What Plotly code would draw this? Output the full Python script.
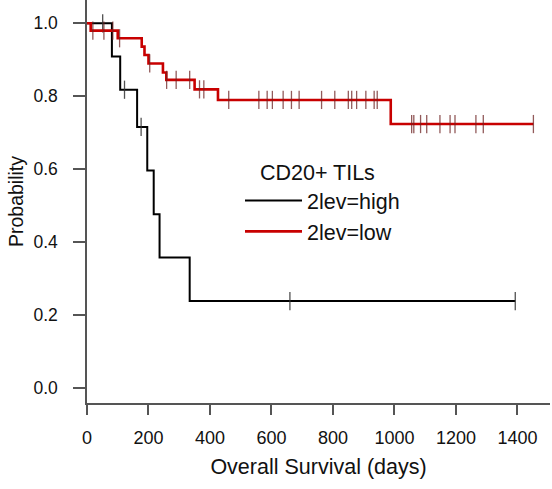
import plotly.graph_objects as go
import numpy as np

# Kaplan-Meier step data
high_times = [0, 81, 108, 163, 196, 217, 236, 334]
high_surv = [1.0, 0.909, 0.818, 0.716, 0.597, 0.477, 0.358, 0.239]
high_end = 1393
high_censor = [51, 122, 176, 660, 1393]

low_times = [0, 12, 100, 178, 187, 200, 247, 258, 350, 426, 988]
low_surv = [1.0, 0.980, 0.959, 0.936, 0.913, 0.890, 0.865, 0.845, 0.819, 0.790, 0.724]
low_end = 1452
low_censor = [19, 55, 84, 106, 204, 259, 290, 334, 366, 380, 461, 559, 586, 603,
              638, 665, 690, 763, 806, 850, 861, 877, 907, 934, 944, 1056, 1063,
              1085, 1105, 1148, 1181, 1197, 1265, 1289, 1452]

x_ticks = [0, 200, 400, 600, 800, 1000, 1200, 1400]
y_ticks = [0.0, 0.2, 0.4, 0.6, 0.8, 1.0]


def surv_at(times, surv, t):
    idx = np.searchsorted(times, t, side="right") - 1
    return surv[idx]


fig = go.Figure()

for name, times, surv, end, cens, col, lw, mcol in [
    ("2lev=high", high_times, high_surv, high_end, high_censor, "#000000", 2, "rgba(50,50,50,0.85)"),
    ("2lev=low", low_times, low_surv, low_end, low_censor, "#c80000", 2.6, "rgba(110,35,35,0.75)"),
]:
    fig.add_trace(go.Scatter(
        x=list(times) + [end], y=list(surv) + [surv[-1]],
        mode="lines", line=dict(color=col, width=lw, shape="hv"),
        name=name, showlegend=True,
    ))
    fig.add_trace(go.Scatter(
        x=cens, y=[surv_at(times, surv, t) for t in cens],
        mode="markers",
        marker=dict(symbol="line-ns-open", size=13, color=mcol,
                    line=dict(color=mcol, width=1.3)),
        showlegend=False, hoverinfo="skip",
    ))

axis_col = "#555555"
fig.update_layout(
    width=552, height=489,
    margin=dict(l=87, r=2, t=0, b=86),
    paper_bgcolor="white", plot_bgcolor="white",
    font=dict(family="Arial, Liberation Sans, sans-serif", color="#111111"),
    xaxis=dict(
        range=[0, 1506], tickvals=x_ticks, ticktext=[str(v) for v in x_ticks],
        showgrid=False, zeroline=False, showline=True, linecolor=axis_col, linewidth=1.5,
        ticks="outside", ticklen=10, tickcolor=axis_col, tickwidth=1.5,
        tickfont=dict(size=18), ticklabelstandoff=8,
        title=dict(text="Overall Survival (days)", font=dict(size=21.5), standoff=12),
    ),
    yaxis=dict(
        range=[-0.0403, 1.0638], tickvals=y_ticks, ticktext=[f"{v:.1f}" for v in y_ticks],
        showgrid=False, zeroline=False, showline=True, linecolor=axis_col, linewidth=1.5,
        ticks="outside", ticklen=12, tickcolor=axis_col, tickwidth=1.5,
        tickfont=dict(size=17.5), ticklabelstandoff=12,
        title=dict(text="Probability", font=dict(size=19.5), standoff=5),
    ),
    legend=dict(
        x=(240 - 87) / 463, y=1 - 152 / 403, xanchor="left", yanchor="top",
        bgcolor="rgba(0,0,0,0)", font=dict(size=21.5), itemwidth=57,
        title=dict(text="\u00a0\u00a0\u00a0CD20+ TILs", side="top", font=dict(size=21.5)),
        tracegroupgap=0,
    ),
)

fig.write_html("out.html")
